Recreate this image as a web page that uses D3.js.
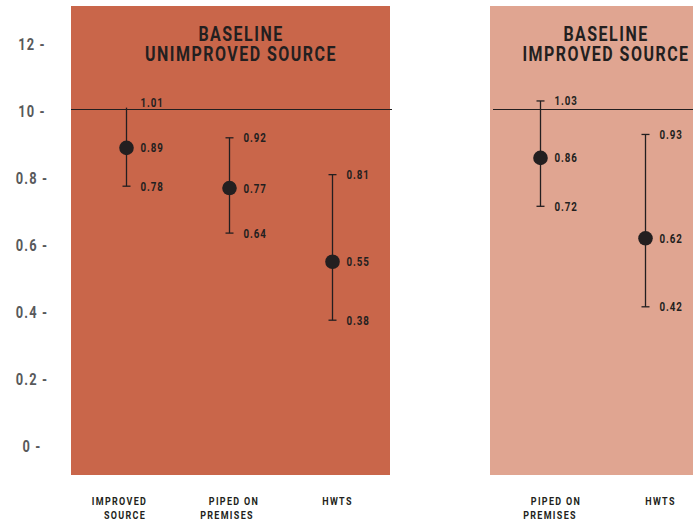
<!DOCTYPE html>
<html>
<head>
<meta charset="utf-8">
<script src="https://cdn.jsdelivr.net/npm/d3@7"></script>
<style>
  html, body { margin: 0; padding: 0; background: #fff; }
  svg { display: block; }
  text { font-family: Roboto, "Liberation Sans", sans-serif; font-weight: bold; }
</style>
</head>
<body>
<svg id="chart" width="693" height="523"></svg>
<script>
// Ratios with 95% intervals, by baseline water source
const unimprovedCategories = ["IMPROVED\nSOURCE", "PIPED ON\nPREMISES", "HWTS"];
const unimprovedEstimate = [0.89, 0.77, 0.55];
const unimprovedLower = [0.78, 0.64, 0.38];
const unimprovedUpper = [1.01, 0.92, 0.81];

const improvedCategories = ["PIPED ON\nPREMISES", "HWTS"];
const improvedEstimate = [0.86, 0.62];
const improvedLower = [0.72, 0.42];
const improvedUpper = [1.03, 0.93];

const tickValues = [0, 0.2, 0.4, 0.6, 0.8, 1.0, 1.2];
const tickLabels = ["0", "0.2", "0.4", "0.6", "0.8", "10", "12"];
const referenceValue = 1.0;

const ink = "#231f20";
const squeeze = 0.78; // horizontal compression for a condensed look
const svg = d3.select("#chart");

// Adds a horizontally condensed text anchored at (x, y)
function label(parent, x, y, str, o) {
  return parent.append("text")
    .attr("transform", `translate(${x},${y}) scale(${o.sx || squeeze},1)`)
    .attr("text-anchor", o.anchor || "start")
    .attr("dy", o.dy || null)
    .attr("fill", o.fill || ink)
    .style("font-size", o.size + "px")
    .style("letter-spacing", (o.ls || 0) + "px")
    .text(str);
}

const y = d3.scaleLinear().domain([0, 1.2]).range([446, 44]);

// y-axis labels
const yAxis = d3.axisLeft(y)
  .tickValues(tickValues)
  .tickFormat((d, i) => tickLabels[i] + " -")
  .tickSize(0);
const gAxis = svg.append("g").call(yAxis);
gAxis.select(".domain").remove();
gAxis.selectAll("text")
  .attr("x", 0)
  .attr("transform", `translate(32,0) scale(${squeeze},1)`)
  .attr("text-anchor", "middle")
  .attr("dy", "0.36em")
  .attr("fill", "#58595b")
  .style("font-size", "16.5px")
  .style("letter-spacing", "1.5px");

const panels = [
  { title: ["BASELINE", "UNIMPROVED SOURCE"], titleX: 241, fill: "#c9664a", x0: 71, x1: 390, lineX0: 71, lineX1: 392,
    points: [126, 332], labelDx: [[-7, -1.5], [4.5, -2.5], [5]],
    cats: unimprovedCategories, est: unimprovedEstimate, lo: unimprovedLower, hi: unimprovedUpper },
  { title: ["BASELINE", "IMPROVED SOURCE"], titleX: 606, fill: "#e0a591", x0: 490, x1: 700, lineX0: 493, lineX1: 693,
    points: [540, 645], labelDx: [[15.5, 9.5], [15]],
    cats: improvedCategories, est: improvedEstimate, lo: improvedLower, hi: improvedUpper }
];

panels.forEach(p => {
  const g = svg.append("g");
  g.append("rect")
    .attr("x", p.x0).attr("y", 6)
    .attr("width", p.x1 - p.x0).attr("height", 469)
    .attr("fill", p.fill);

  p.title.forEach((t, i) => {
    label(g, p.titleX, 61 + (i - 1) * 20, t, { anchor: "middle", size: 20.5, ls: 1.9 });
  });

  // reference line at ratio 1
  g.append("line")
    .attr("x1", p.lineX0).attr("x2", p.lineX1)
    .attr("y1", y(referenceValue) - 1.5).attr("y2", y(referenceValue) - 1.5)
    .attr("stroke", ink).attr("stroke-width", 1.2);

  const x = d3.scalePoint().domain(p.cats).range(p.points);

  p.cats.forEach((c, i) => {
    const px = x(c) + 0.5;
    // whisker
    g.append("line")
      .attr("x1", px).attr("x2", px)
      .attr("y1", y(p.lo[i]) + 1.5).attr("y2", y(p.hi[i]))
      .attr("stroke", ink).attr("stroke-width", 1.3);
    g.append("line")
      .attr("x1", px - 4).attr("x2", px + 4)
      .attr("y1", y(p.lo[i]) + 1.5).attr("y2", y(p.lo[i]) + 1.5)
      .attr("stroke", ink).attr("stroke-width", 1.3);
    if (p.hi[i] - referenceValue > 0.02 || p.hi[i] < referenceValue) {
      g.append("line")
        .attr("x1", px - 4).attr("x2", px + 4)
        .attr("y1", y(p.hi[i])).attr("y2", y(p.hi[i]))
        .attr("stroke", ink).attr("stroke-width", 1.3);
    }
    g.append("circle")
      .attr("cx", px).attr("cy", y(p.est[i]))
      .attr("r", 7.3).attr("fill", ink);

    // value labels
    [[p.lo[i], 1.5], [p.est[i], 0], [p.hi[i], 0]].forEach(([v, off]) => {
      const nudge = (v > referenceValue && v - referenceValue < 0.03) ? -5 : 0;
      label(g, px + 14, y(v) + off + nudge, v.toFixed(2), { dy: "0.36em", size: 12.5, ls: 1.2 });
    });

    // category label
    c.split("\n").forEach((line, k) => {
      label(g, px + p.labelDx[i][k], 505 + k * 14, line, { anchor: "middle", size: 11.5, ls: 1.7 });
    });
  });
});
</script>
</body>
</html>
